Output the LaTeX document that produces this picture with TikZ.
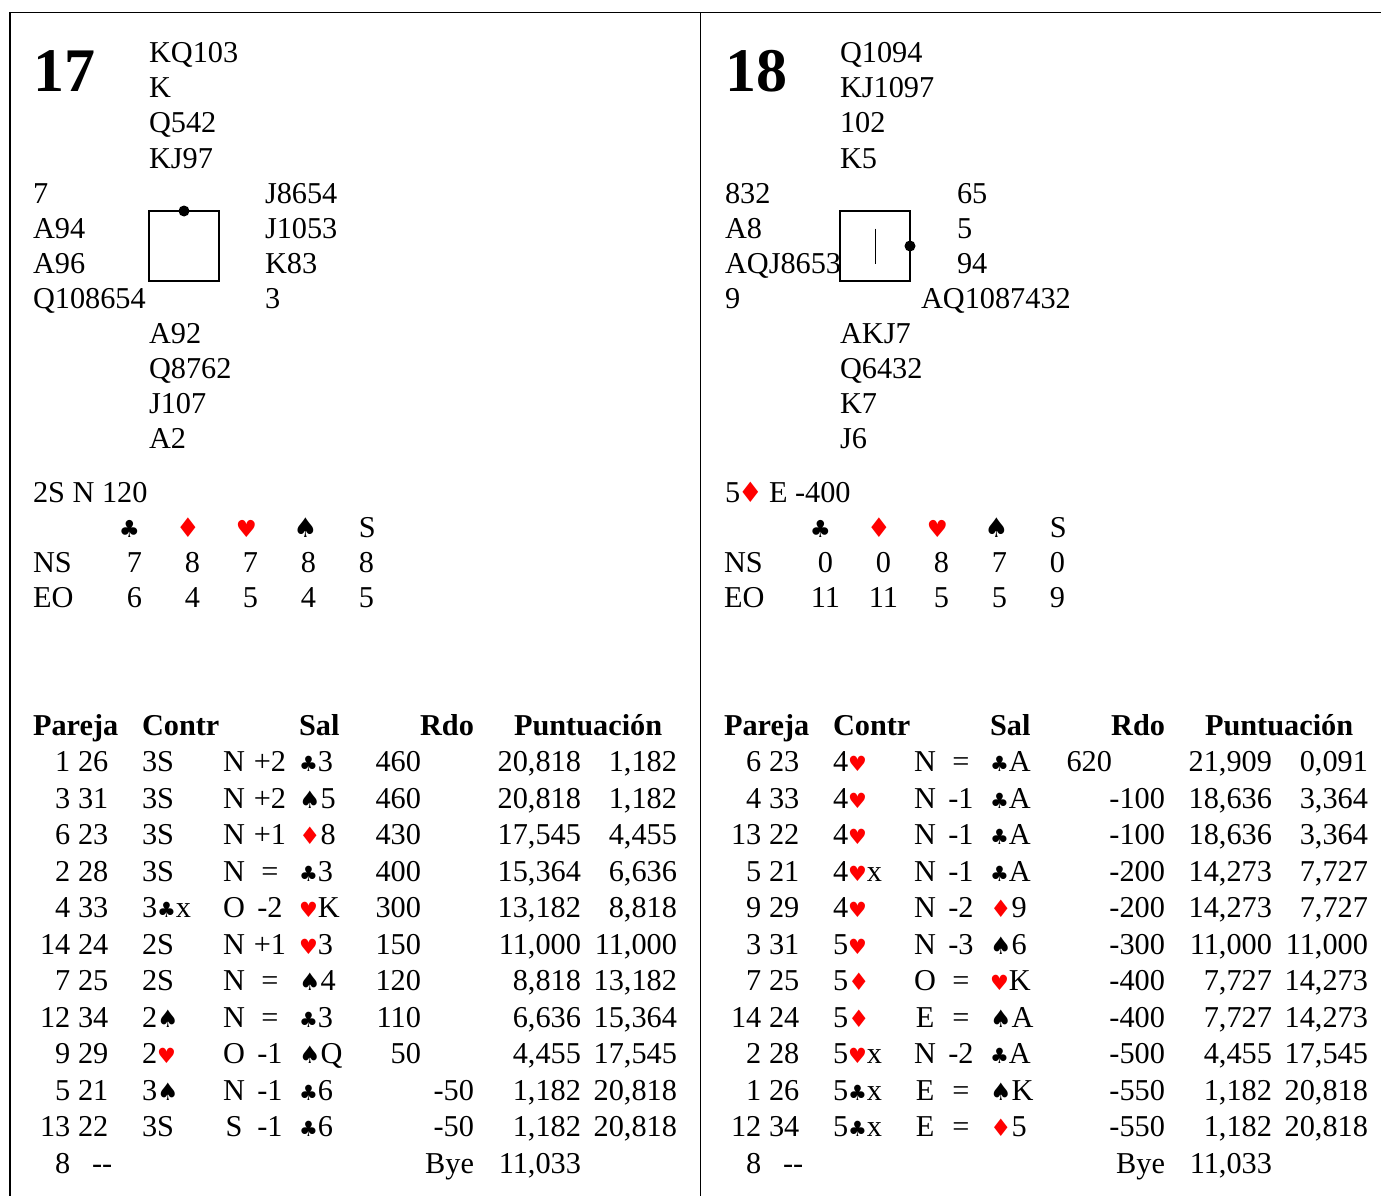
\documentclass[tikz,border=0pt]{standalone}
\usepackage{fontspec}
\setmainfont{Liberation Serif}
\newfontfamily\symf{DejaVu Sans}
\newcommand\fs{\fontsize{30.3}{36}\selectfont}
\newcommand\tsf{\symf\fontsize{21}{21}\selectfont}
\newcommand\tsfb{\symf\fontsize{24}{24}\selectfont}
\newcommand\hsf{\symf\fontsize{23.5}{23.5}\selectfont}
\newcommand\hsfb{\symf\fontsize{27}{27}\selectfont}
\newcommand\xCl{{\tsf ♣}}
\newcommand\xDi{{\tsfb\color{red}♦}}
\newcommand\xHe{{\tsf\color{red}♥}}
\newcommand\xSp{{\tsfb ♠}}
\tikzset{
  t/.style={inner sep=0pt, outer sep=0pt, anchor=base west, font=\fs},
  tr/.style={t, anchor=base east},
  tc/.style={t, anchor=base},
  hb/.style={t, font=\fs\bfseries},
  frame/.style={line width=1.2pt},
  deal/.style={draw, line width=1.2pt, minimum width=70pt, minimum height=70pt, inner sep=0pt, outer sep=0pt, anchor=north west},
}
\newcount\rn
\newcommand\R[9]{%
  \global\advance\rn by 1
  \node[tr] (a\the\rn) at (70.3,#1) {#2};
  \node[t] (b\the\rn) at (78,#1) {#3};
  \if\relax\detokenize{#4}\relax\else\node[t] (c\the\rn) at (142,#1) {#4};\fi
  \if\relax\detokenize{#5}\relax\else\node[tc] (d\the\rn) at (234,#1) {#5};\fi
  \if\relax\detokenize{#6}\relax\else\node[tc] (e\the\rn) at (270,#1) {#6};\fi
  \if\relax\detokenize{#7}\relax\else\node[t] (f\the\rn) at (299,#1) {#7};\fi
  \if\relax\detokenize{#8}\relax\else\node[tr] (g\the\rn) at (421,#1) {#8};\fi
  \if\relax\detokenize{#9}\relax\else\node[tr] (h\the\rn) at (474,#1) {#9};\fi
}
\newcommand\Pt[3]{%
  \node[tr] (i\the\rn) at (581,#1) {#2};
  \if\relax\detokenize{#3}\relax\else\node[tr] (j\the\rn) at (677,#1) {#3};\fi
}
\newcommand\Hdr[1]{%
  \node[hb] (hp#1) at (33,735) {Pareja};
  \node[hb] (hc#1) at (142,735) {Contr};
  \node[hb] (hs#1) at (299,735) {Sal};
  \node[hb, anchor=base east] (hr#1) at (474,735) {Rdo};
  \node[hb] (hu#1) at (514,735) {Puntuación};
  \node[tc] (dc#1) at (129.5,537) {\hsf ♣};
  \node[tc] (dd#1) at (188,537) {\hsfb\color{red}♦};
  \node[tc] (dh#1) at (246.5,537) {\hsf\color{red}♥};
  \node[tc] (ds#1) at (305.5,537) {\hsfb ♠};
  \node[tc] (dn#1) at (367.3,537) {S};
  \node[t] (ns#1) at (33,572) {NS};
  \node[t] (eo#1) at (33,607) {EO};
}
\newcommand\Dist[3]{% y, row name, five values
  \foreach \v [count=\k] in {#3} {
    \pgfmathsetmacro\xx{134.5+(\k-1)*58}
    \node[tc] (#2\k) at (\xx,#1) {\v};
  }
}
\begin{document}
\begin{tikzpicture}[x=1pt, y=-1pt]
\useasboundingbox (0,0) rectangle (1381,1196);
\draw[frame] (10,12.3) -- (1381,12.3);
\draw[frame] (10,12.3) -- (10,1196);
\draw[frame] (700.3,12.3) -- (700.3,1196);

% ---------------- Board 17 ----------------
\node[t, font=\fontsize{62}{62}\selectfont\bfseries] (num17) at (33,92) {17};
\node[t] (n1) at (149,63) {KQ103};
\node[t] (n2) at (149,98) {K};
\node[t] (n3) at (149,133) {Q542};
\node[t] (n4) at (149,168) {KJ97};
\node[t] (w1) at (33,203) {7};
\node[t] (w2) at (33,238) {A94};
\node[t] (w3) at (33,273) {A96};
\node[t] (w4) at (33,308) {Q108654};
\node[t] (e1) at (265,203) {J8654};
\node[t] (e2) at (265,238) {J1053};
\node[t] (e3) at (265,273) {K83};
\node[t] (e4) at (265,308) {3};
\node[t] (s1) at (149,343) {A92};
\node[t] (s2) at (149,378) {Q8762};
\node[t] (s3) at (149,413) {J107};
\node[t] (s4) at (149,448) {A2};
\node[deal] (box17) at (149,211) {};
\fill (box17.north) circle (5.5pt);
\node[t] (res17) at (33,502) {2S N 120};
\Hdr{17}
\Dist{572}{nsa}{7,8,7,8,8}
\Dist{607}{eoa}{6,4,5,4,5}
\R{771.5}{1}{26}{3S}{N}{+2}{\xCl3}{460}{}\Pt{771.5}{20,818}{1,182}
\R{808}{3}{31}{3S}{N}{+2}{\xSp5}{460}{}\Pt{808}{20,818}{1,182}
\R{844.5}{6}{23}{3S}{N}{+1}{\xDi8}{430}{}\Pt{844.5}{17,545}{4,455}
\R{881}{2}{28}{3S}{N}{=}{\xCl3}{400}{}\Pt{881}{15,364}{6,636}
\R{917.5}{4}{33}{3\xCl x}{O}{-2}{\xHe K}{300}{}\Pt{917.5}{13,182}{8,818}
\R{954}{14}{24}{2S}{N}{+1}{\xHe3}{150}{}\Pt{954}{11,000}{11,000}
\R{990.5}{7}{25}{2S}{N}{=}{\xSp4}{120}{}\Pt{990.5}{8,818}{13,182}
\R{1027}{12}{34}{2\xSp}{N}{=}{\xCl3}{110}{}\Pt{1027}{6,636}{15,364}
\R{1063.5}{9}{29}{2\xHe}{O}{-1}{\xSp Q}{50}{}\Pt{1063.5}{4,455}{17,545}
\R{1100}{5}{21}{3\xSp}{N}{-1}{\xCl6}{}{-50}\Pt{1100}{1,182}{20,818}
\R{1136.5}{13}{22}{3S}{S}{-1}{\xCl6}{}{-50}\Pt{1136.5}{1,182}{20,818}
\node[tr] (bp17) at (70.3,1173) {8};
\node[t] (bd17) at (92,1173) {-{}-};
\node[tr] (by17) at (474,1173) {Bye};
\node[tr] (bs17) at (581,1173) {11,033};

% ---------------- Board 18 ----------------
\begin{scope}[xshift=691pt]
\node[t, font=\fontsize{62}{62}\selectfont\bfseries] (num18) at (34.5,92) {18};
\node[t] (nn1) at (149,63) {Q1094};
\node[t] (nn2) at (149,98) {KJ1097};
\node[t] (nn3) at (149,133) {102};
\node[t] (nn4) at (149,168) {K5};
\node[t] (ww1) at (34,203) {832};
\node[t] (ww2) at (34,238) {A8};
\node[t] (ww3) at (34,273) {AQJ8653};
\node[t] (ww4) at (34,308) {9};
\node[t] (ee1) at (266,203) {65};
\node[t] (ee2) at (266,238) {5};
\node[t] (ee3) at (266,273) {94};
\node[t] (ee4) at (230,308) {AQ1087432};
\node[t] (ss1) at (149,343) {AKJ7};
\node[t] (ss2) at (149,378) {Q6432};
\node[t] (ss3) at (149,413) {K7};
\node[t] (ss4) at (149,448) {J6};
\node[deal] (box18) at (149,211) {};
\fill (box18.east) circle (5.5pt);
\draw[line width=1pt] ([yshift=17.5pt]box18.center) -- ([yshift=-17.5pt]box18.center);
\node[t] (r18a) at (34,502) {5};
\node[tc] (r18b) at (59.5,502) {\symf\fontsize{28}{28}\selectfont\color{red}♦};
\node[t] (r18c) at (78,502) {E -400};
\Hdr{18}
\Dist{572}{nsb}{0,0,8,7,0}
\Dist{607}{eob}{11,11,5,5,9}
\R{771.5}{6}{23}{4\xHe}{N}{=}{\xCl A}{620}{}\Pt{771.5}{21,909}{0,091}
\R{808}{4}{33}{4\xHe}{N}{-1}{\xCl A}{}{-100}\Pt{808}{18,636}{3,364}
\R{844.5}{13}{22}{4\xHe}{N}{-1}{\xCl A}{}{-100}\Pt{844.5}{18,636}{3,364}
\R{881}{5}{21}{4\xHe x}{N}{-1}{\xCl A}{}{-200}\Pt{881}{14,273}{7,727}
\R{917.5}{9}{29}{4\xHe}{N}{-2}{\xDi9}{}{-200}\Pt{917.5}{14,273}{7,727}
\R{954}{3}{31}{5\xHe}{N}{-3}{\xSp6}{}{-300}\Pt{954}{11,000}{11,000}
\R{990.5}{7}{25}{5\xDi}{O}{=}{\xHe K}{}{-400}\Pt{990.5}{7,727}{14,273}
\R{1027}{14}{24}{5\xDi}{E}{=}{\xSp A}{}{-400}\Pt{1027}{7,727}{14,273}
\R{1063.5}{2}{28}{5\xHe x}{N}{-2}{\xCl A}{}{-500}\Pt{1063.5}{4,455}{17,545}
\R{1100}{1}{26}{5\xCl x}{E}{=}{\xSp K}{}{-550}\Pt{1100}{1,182}{20,818}
\R{1136.5}{12}{34}{5\xCl x}{E}{=}{\xDi5}{}{-550}\Pt{1136.5}{1,182}{20,818}
\node[tr] (bp18) at (70.3,1173) {8};
\node[t] (bd18) at (92,1173) {-{}-};
\node[tr] (by18) at (474,1173) {Bye};
\node[tr] (bs18) at (581,1173) {11,033};
\end{scope}
\end{tikzpicture}
\end{document}
